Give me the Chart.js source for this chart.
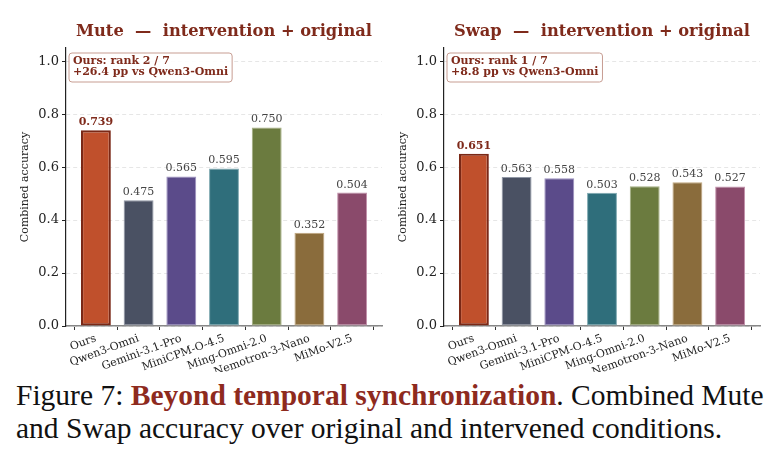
<!DOCTYPE html>
<html>
<head>
<meta charset="utf-8">
<script src="https://cdn.jsdelivr.net/npm/chart.js@4.4.1/dist/chart.umd.min.js"></script>
<style>
  body { margin: 0; width: 780px; height: 461px; background: #fff; position: relative; overflow: hidden; }
  .panel { position: absolute; top: 0; width: 390px; height: 372px; }
  #caption {
    position: absolute; left: 16px; top: 379px; width: 770px;
    font-family: "Liberation Serif", "Times New Roman", serif; font-size: 29.5px;
    line-height: 33px; color: #111; white-space: nowrap;
  }
  #caption b { color: #8e2a1e; }
</style>
</head>
<body>
<div class="panel" style="left:0"><canvas id="muteChart" width="390" height="372"></canvas></div>
<div class="panel" style="left:390px"><canvas id="swapChart" width="390" height="372"></canvas></div>
<div id="caption">Figure 7: <b>Beyond temporal synchronization</b>. Combined Mute<br>and Swap accuracy over original and intervened conditions.</div>

<script>
// ---- data ----
const models = ['Ours', 'Qwen3-Omni', 'Gemini-3.1-Pro', 'MiniCPM-O-4.5', 'Ming-Omni-2.0', 'Nemotron-3-Nano', 'MiMo-V2.5'];
const muteAcc = [0.739, 0.475, 0.565, 0.595, 0.750, 0.352, 0.504];
const swapAcc = [0.651, 0.563, 0.558, 0.503, 0.528, 0.543, 0.527];
const yTicks = [0.0, 0.2, 0.4, 0.6, 0.8, 1.0];
const muteNote = ['Ours: rank 2 / 7', '+26.4 pp vs Qwen3-Omni'];
const swapNote = ['Ours: rank 1 / 7', '+8.8 pp vs Qwen3-Omni'];

const barColors  = ['#c0502c', '#4a5163', '#5b4b8a', '#2f6e7b', '#6b7b3f', '#8a6c3c', '#8a4a6b'];
const edgeColors = ['#7a2816', '#8f96a4', '#9c90c0', '#7fa9b1', '#a3ae80', '#c0a77e', '#c290ab'];
const RED = '#7f2a1b';
const SERIF = '"DejaVu Serif", serif';

// titles, value labels, note box, y label
const decor = {
  id: 'decor',
  afterDatasetsDraw(chart, args, opts) {
    const { ctx, chartArea: a } = chart;
    const meta = chart.getDatasetMeta(0);
    ctx.save();
    // title
    ctx.fillStyle = RED;
    ctx.font = 'bold 16.3px ' + SERIF;
    ctx.textAlign = 'center';
    ctx.textBaseline = 'alphabetic';
    ctx.fillText(opts.title, (a.left + a.right) / 2, 36);
    // value labels
    meta.data.forEach((bar, i) => {
      const v = chart.data.datasets[0].data[i].y;
      ctx.font = (i === 0 ? 'bold ' : '') + '11px ' + SERIF;
      ctx.fillStyle = i === 0 ? RED : '#444';
      ctx.fillText(v.toFixed(3), bar.x, bar.y - 5);
    });
    // y label
    ctx.save();
    ctx.translate(a.left - 41, (a.top + a.bottom) / 2);
    ctx.rotate(-Math.PI / 2);
    ctx.fillStyle = '#222';
    ctx.font = '11px ' + SERIF;
    ctx.textBaseline = 'middle';
    ctx.fillText('Combined accuracy', 0, 0);
    ctx.restore();
    // note box
    ctx.font = 'bold 11px ' + SERIF;
    const w = Math.max(...opts.note.map(t => ctx.measureText(t).width)) + 8;
    const x0 = a.left + 3, y0 = a.top + 5;
    ctx.beginPath();
    ctx.roundRect(x0, y0, w, 29, 3);
    ctx.fillStyle = 'rgba(255,255,255,0.9)';
    ctx.fill();
    ctx.strokeStyle = '#c79d92';
    ctx.lineWidth = 1;
    ctx.stroke();
    ctx.fillStyle = RED;
    ctx.textAlign = 'left';
    ctx.textBaseline = 'middle';
    ctx.fillText(opts.note[0], x0 + 4, y0 + 8.5);
    ctx.fillText(opts.note[1], x0 + 4, y0 + 19.5);
    ctx.restore();
  }
};

function makeChart(id, values, title, note, yWidth, padRight) {
  return new Chart(document.getElementById(id), {
    type: 'bar',
    data: {
      datasets: [{
        data: values.map((v, i) => ({ x: i, y: v })),
        backgroundColor: barColors,
        borderColor: edgeColors,
        borderWidth: values.map((v, i) => i === 0 ? 2.2 : 1),
        borderSkipped: false,
        categoryPercentage: 1,
        barPercentage: 0.7
      }]
    },
    options: {
      responsive: false,
      animation: false,
      devicePixelRatio: 1,
      layout: { padding: { left: 0, right: padRight, top: 48, bottom: 0 } },
      plugins: {
        legend: { display: false },
        tooltip: { enabled: false },
        decor: { title, note }
      },
      scales: {
        x: {
          type: 'linear',
          offset: false,
          min: -0.7, max: 6.7,
          afterBuildTicks: s => { s.ticks = models.map((m, i) => ({ value: i })); },
          afterFit: s => { s.height = 46; },
          ticks: {
            callback: (v) => models[v],
            autoSkip: false,
            minRotation: 20, maxRotation: 20,
            padding: 2,
            color: '#222',
            font: { family: SERIF, size: 11 }
          },
          grid: { drawOnChartArea: false, drawTicks: true, tickLength: 4, tickColor: '#333', lineWidth: 1 },
          border: { color: '#888', width: 1.5 }
        },
        y: {
          min: 0, max: 1.05,
          afterBuildTicks: s => { s.ticks = yTicks.map(v => ({ value: v })); },
          afterFit: s => { s.width = yWidth; },
          ticks: {
            callback: v => v.toFixed(1),
            padding: 3,
            color: '#222',
            font: { family: SERIF, size: 13 }
          },
          grid: { color: '#e6e6e6', lineWidth: 1, tickColor: '#222', tickLength: 4 },
          border: { color: '#222', width: 1.2, dash: [4, 3] }
        }
      }
    },
    plugins: [decor]
  });
}

makeChart('muteChart', muteAcc, 'Mute  \u2014  intervention + original', muteNote, 66, 8);
makeChart('swapChart', swapAcc, 'Swap  \u2014  intervention + original', swapNote, 54, 20);
</script>
</body>
</html>
